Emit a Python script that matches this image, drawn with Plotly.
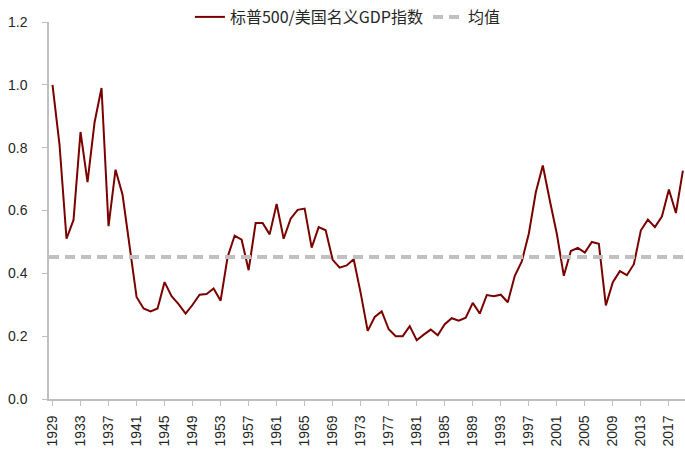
import plotly.graph_objects as go

# 标普500 / 美国名义GDP 指数, 1929-2019
years = list(range(1929, 2020))
ratio = [
    1.00, 0.81, 0.51, 0.57, 0.85, 0.69, 0.88, 0.99, 0.55, 0.73,  # 1929-1938
    0.65, 0.49, 0.325, 0.288, 0.279, 0.288, 0.372, 0.327, 0.302, 0.272,  # 1939-1948
    0.30, 0.332, 0.334, 0.352, 0.313, 0.452, 0.52, 0.507, 0.41, 0.56,  # 1949-1958
    0.56, 0.524, 0.621, 0.51, 0.574, 0.602, 0.606, 0.482, 0.547, 0.537,  # 1959-1968
    0.443, 0.418, 0.425, 0.445, 0.337, 0.217, 0.261, 0.279, 0.222, 0.20,  # 1969-1978
    0.20, 0.232, 0.187, 0.205, 0.221, 0.203, 0.238, 0.257, 0.249, 0.259,  # 1979-1988
    0.306, 0.272, 0.331, 0.327, 0.332, 0.308, 0.392, 0.438, 0.526, 0.658,  # 1989-1998
    0.743, 0.632, 0.526, 0.392, 0.471, 0.481, 0.466, 0.50, 0.494, 0.298,  # 1999-2008
    0.372, 0.407, 0.394, 0.429, 0.537, 0.571, 0.547, 0.581, 0.667, 0.592,  # 2009-2018
    0.727,  # 2019
]
mean_value = 0.452

tick_years = list(range(1929, 2018, 4))
y_ticks = [0.0, 0.2, 0.4, 0.6, 0.8, 1.0, 1.2]

AXIS_GREY = "#BFBFBF"
TEXT = "#262626"

fig = go.Figure()

fig.add_trace(go.Scatter(
    x=years, y=ratio,
    mode="lines",
    name="标普500/美国名义GDP指数",
    line=dict(color="#7A0000", width=2),
))

fig.add_trace(go.Scatter(
    x=[years[0] - 0.5, years[-1] + 0.5], y=[mean_value, mean_value],
    mode="lines",
    name="均值",
    line=dict(color="#C0C0C0", width=4, dash="10px,6px"),
))

fig.update_layout(
    width=685, height=450,
    margin=dict(l=49, r=0, t=21, b=51),
    paper_bgcolor="white", plot_bgcolor="white",
    font=dict(family="Liberation Sans, Arial, sans-serif", size=14, color=TEXT),
    showlegend=True,
    legend=dict(
        orientation="h",
        x=0.47, xanchor="center",
        y=1.013, yanchor="middle",
        font=dict(family="Noto Sans CJK SC, sans-serif", size=16, color=TEXT),
        traceorder="normal",
        itemwidth=30,
    ),
)

fig.update_xaxes(
    range=[1928.5, 2019.3],
    tickvals=tick_years,
    ticktext=[str(y) for y in tick_years],
    tickangle=-90,
    ticks="outside", ticklen=5, tickcolor=AXIS_GREY,
    ticklabelstandoff=4,
    showline=True, linecolor=AXIS_GREY, linewidth=1.5,
    showgrid=False, zeroline=False,
    automargin=False,
)

fig.update_yaxes(
    range=[0, 1.2],
    tickvals=y_ticks,
    ticktext=[f"{v:.1f}" for v in y_ticks],
    ticks="outside", ticklen=5, tickcolor=AXIS_GREY,
    ticklabelstandoff=12,
    showline=True, linecolor=AXIS_GREY, linewidth=1.5,
    showgrid=False, zeroline=False,
    automargin=False,
)

# drop the browser's default body margin so the figure fills the window
fig.write_html(
    "out.html",
    config={"displayModeBar": False},
    post_script="document.body.style.margin = '0';",
)
